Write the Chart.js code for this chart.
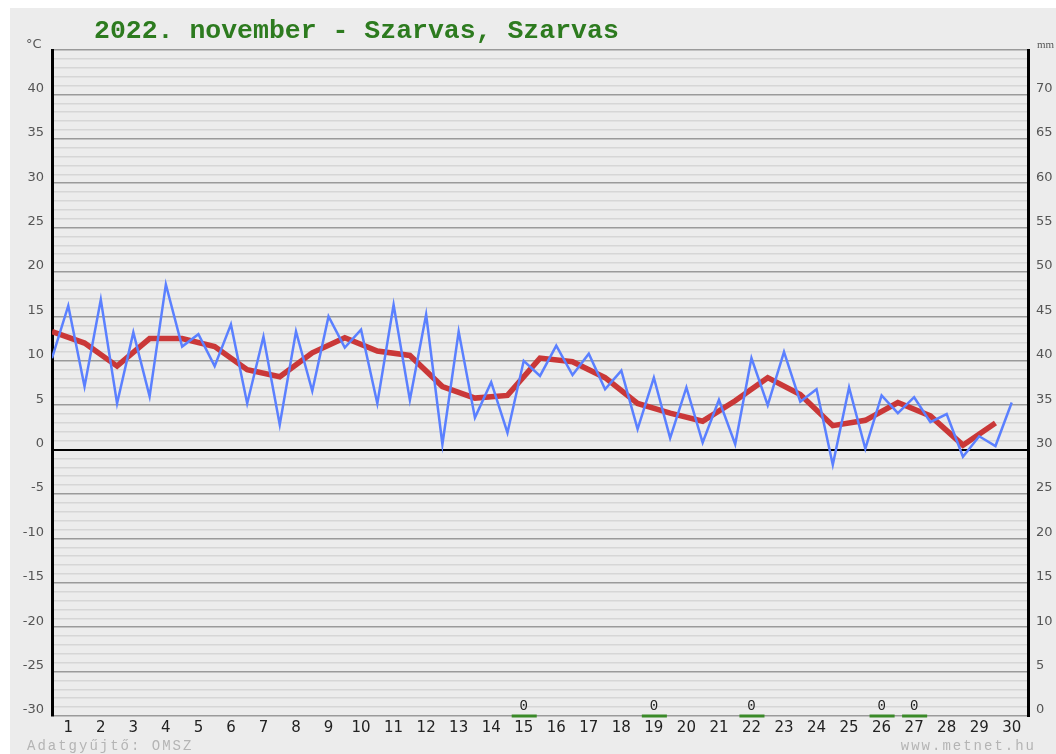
<!DOCTYPE html>
<html>
<head>
<meta charset="utf-8">
<script src="https://cdn.jsdelivr.net/npm/chart.js@4"></script>
<style>
  html, body { margin: 0; padding: 0; background: #fff; }
  canvas { display: block; }
</style>
</head>
<body>
<canvas id="chart" width="1056" height="754"></canvas>
<script>
// napok
const dayLabels = ['1','2','3','4','5','6','7','8','9','10','11','12','13','14','15',
  '16','17','18','19','20','21','22','23','24','25','26','27','28','29','30'];

// homerseklet 12 orankent (°C)
const tempHalfDay = [
  10.3, 16.2, 7.1, 16.9, 5.2, 13.2, 6.0, 18.6, 11.6, 13.0,
  9.4, 14.1, 5.2, 12.7, 2.8, 13.3, 6.6, 15.0, 11.5, 13.5,
  5.2, 16.3, 5.6, 15.2, 0.6, 13.3, 3.6, 7.6, 1.9, 10.0,
  8.3, 11.7, 8.4, 10.8, 6.8, 8.9, 2.3, 8.1, 1.3, 7.0,
  0.8, 5.6, 0.6, 10.3, 5.0, 11.0, 5.4, 6.8, -1.7, 7.0,
  0.1, 6.1, 4.1, 5.9, 3.1, 4.0, -0.8, 1.5, 0.4, 5.3
];

// napi kozep (°C)
const tempDailyMean = [
  13.3, 12.0, 9.4, 12.5, 12.5, 11.6, 9.0, 8.2, 10.9, 12.6,
  11.1, 10.6, 7.1, 5.8, 6.1, 10.3, 9.9, 8.1, 5.2, 4.1,
  3.2, 5.5, 8.1, 6.2, 2.7, 3.3, 5.3, 3.8, 0.5, 3.0
];

// csapadek (mm)
const precipDays = [15, 19, 22, 26, 27];
const precipMm = [0, 0, 0, 0, 0];

const yTicksLeft = [-30, -25, -20, -15, -10, -5, 0, 5, 10, 15, 20, 25, 30, 35, 40];
const yTicksRight = [0, 5, 10, 15, 20, 25, 30, 35, 40, 45, 50, 55, 60, 65, 70];

const blueData = tempHalfDay.map((v, k) => ({ x: k * 0.5, y: v }));
const redData = tempDailyMean.map((v, i) => ({ x: i, y: v }));
const greenData = [];
precipDays.forEach((d, i) => {
  greenData.push({ x: d - 0.87, y: precipMm[i] });
  greenData.push({ x: d - 0.1, y: precipMm[i] });
  greenData.push({ x: d - 0.05, y: null });
});

const extras = {
  id: 'extras',
  beforeDraw(chart) {
    const c = chart.ctx;
    c.save();
    c.fillStyle = '#fff';
    c.fillRect(0, 0, chart.width, chart.height);
    c.fillStyle = '#ececec';
    c.fillRect(10, 8, chart.width - 10, chart.height - 8);
    c.restore();
  },
  afterDraw(chart) {
    const c = chart.ctx;
    const x = chart.scales.x, y2 = chart.scales.y2;
    c.save();
    c.fillStyle = '#2d7b1f';
    c.font = 'bold 26.5px "Liberation Mono", monospace';
    c.textBaseline = 'alphabetic';
    c.textAlign = 'left';
    c.fillText('2022. november - Szarvas, Szarvas', 94, 38);

    c.fillStyle = '#555';
    c.font = '13px "DejaVu Sans", sans-serif';
    c.fillText('°C', 26, 48);
    c.font = '11px "Liberation Serif", serif';
    c.fillText('mm', 1037, 48);

    c.fillStyle = '#222';
    c.font = '14px "Liberation Mono", monospace';
    c.textAlign = 'center';
    precipDays.forEach((d, i) => {
      c.fillText(String(precipMm[i]), x.getPixelForValue(d - 0.5), y2.getPixelForValue(precipMm[i]) - 6);
    });

    c.fillStyle = '#b4b4b4';
    c.font = '14px "Liberation Mono", monospace';
    c.letterSpacing = '2px';
    c.textAlign = 'left';
    c.fillText('Adatgyűjtő: OMSZ', 27, 750);
    c.textAlign = 'right';
    c.fillText('www.metnet.hu', 1036, 750);
    c.restore();
  }
};

new Chart(document.getElementById('chart'), {
  type: 'line',
  data: {
    datasets: [
      {
        data: greenData, yAxisID: 'y2', borderColor: '#3a8a28', borderWidth: 3,
        pointRadius: 0, spanGaps: false, clip: false
      },
      {
        data: blueData, yAxisID: 'y', borderColor: '#5b80ff', borderWidth: 2.5,
        pointRadius: 0, tension: 0
      },
      {
        data: redData, yAxisID: 'y', borderColor: 'rgba(200,46,46,0.95)', borderWidth: 5.5,
        pointRadius: 0, tension: 0
      }
    ]
  },
  options: {
    responsive: false,
    animation: false,
    layout: { padding: { top: 50, left: 0, right: 0, bottom: 0 } },
    plugins: { legend: { display: false }, tooltip: { enabled: false } },
    scales: {
      x: {
        type: 'linear', min: 0, max: 30,
        afterBuildTicks: s => { s.ticks = dayLabels.map((d, i) => ({ value: i + 0.5 })); },
        afterFit: s => { s.height = 38; },
        grid: { display: false, drawTicks: false },
        border: { display: false },
        ticks: {
          autoSkip: false, maxRotation: 0, padding: 3,
          color: '#222', font: { family: 'DejaVu Sans', size: 15 },
          callback: (v, i) => dayLabels[i]
        }
      },
      y: {
        type: 'linear', position: 'left', min: -30, max: 45,
        afterBuildTicks: s => {
          const t = [];
          for (let v = -30; v <= 45; v++) t.push({ value: v });
          s.ticks = t;
        },
        afterFit: s => { s.width = 52; },
        border: { display: true, color: '#000', width: 3 },
        grid: {
          drawTicks: false,
          color: ctx => ctx.tick.value === 0 ? '#000' : (ctx.tick.value % 5 === 0 ? '#9a9a9a' : '#d6d6d6'),
          lineWidth: ctx => ctx.tick.value === 0 ? 2 : 1.5
        },
        ticks: {
          autoSkip: false, padding: 8, labelOffset: -6,
          color: '#555', font: { family: 'DejaVu Sans', size: 13 },
          callback: v => yTicksLeft.includes(v) ? String(v) : ''
        }
      },
      y2: {
        type: 'linear', position: 'right', min: 0, max: 75,
        afterBuildTicks: s => { s.ticks = yTicksRight.map(v => ({ value: v })); },
        afterFit: s => { s.width = 28; },
        border: { display: true, color: '#000', width: 3 },
        grid: { display: false, drawTicks: false },
        ticks: {
          autoSkip: false, padding: 8, labelOffset: -6,
          color: '#555', font: { family: 'DejaVu Sans', size: 13 },
          callback: v => String(v)
        }
      }
    }
  },
  plugins: [extras]
});
</script>
</body>
</html>
